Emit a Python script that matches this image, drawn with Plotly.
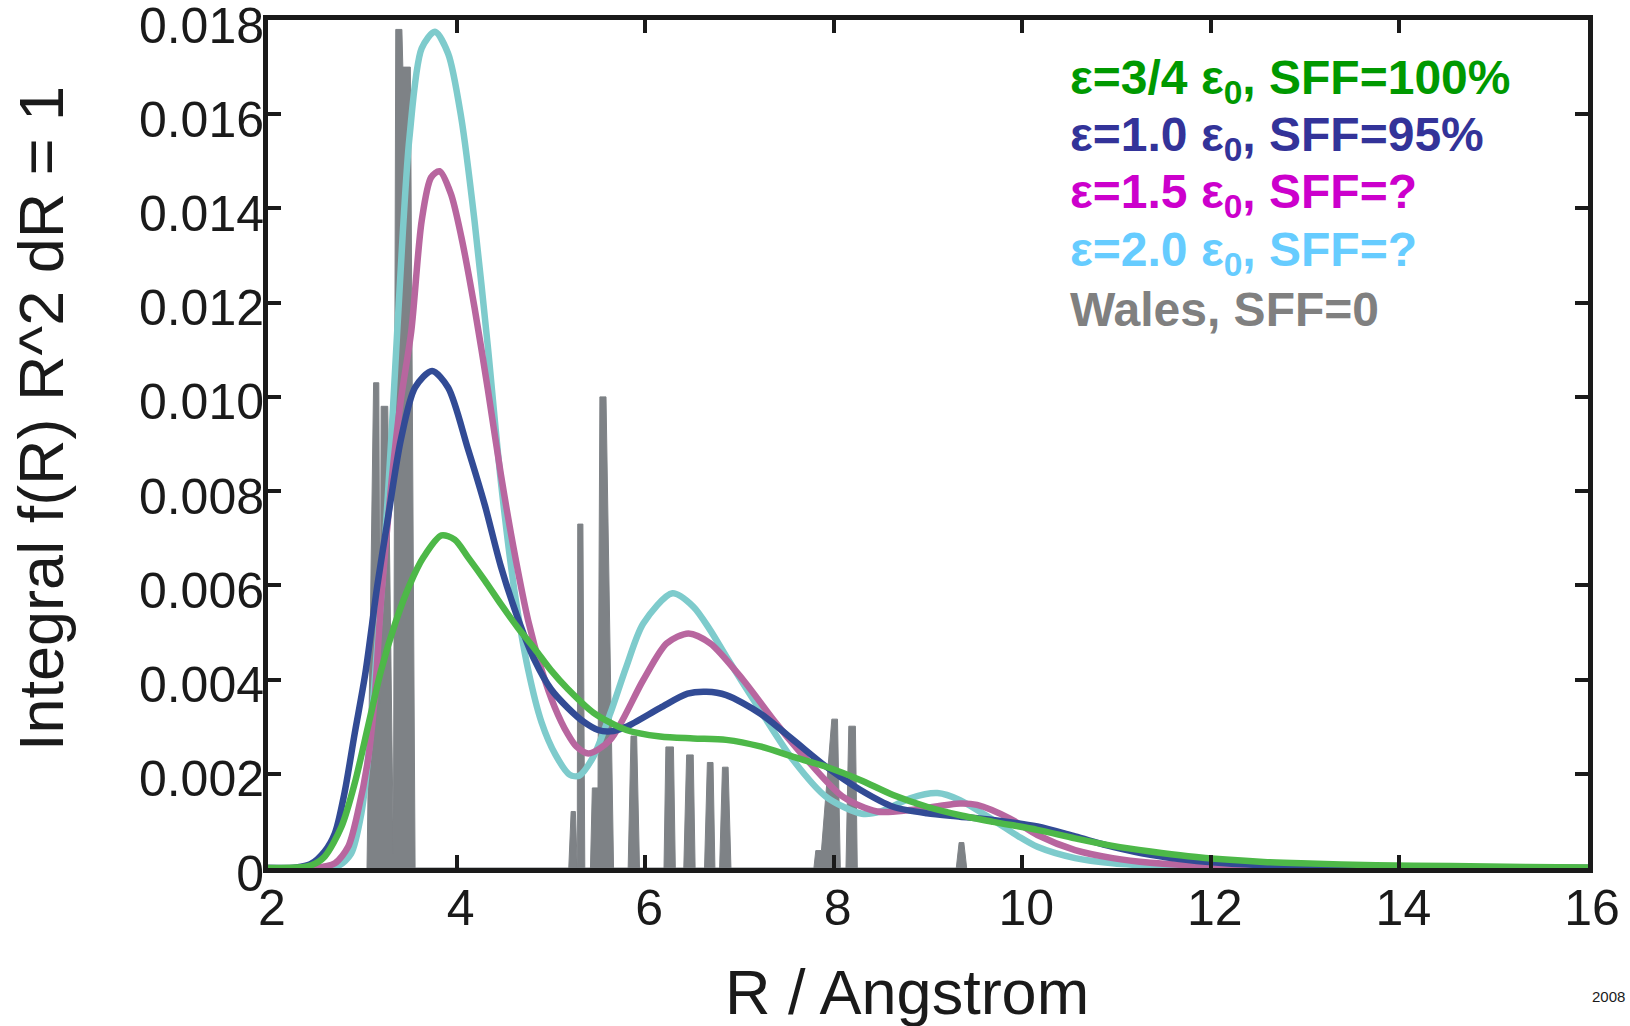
import plotly.graph_objects as go

# ---------------- data ----------------
green_r = [2.0, 2.3, 2.46, 2.60, 2.78, 2.92, 3.06, 3.20, 3.35, 3.50, 3.65, 3.84, 3.98, 4.12, 4.30,
           4.47, 4.65, 4.83, 5.00, 5.18, 5.45, 5.80, 6.16, 6.51, 6.86, 7.22, 7.57, 7.92, 8.28,
           8.63, 8.99, 9.34, 9.69, 10.16, 10.56, 10.96, 11.36, 11.76, 12.16, 12.56, 12.96,
           13.75, 14.55, 15.35, 16.0]
green_v = [0.0, 0.00001, 0.00006, 0.00024, 0.00088, 0.0018, 0.0030, 0.0042, 0.0052, 0.0060,
           0.0066, 0.00706, 0.00697, 0.0066, 0.0061, 0.0056, 0.0051, 0.00465, 0.0042,
           0.0038, 0.0033, 0.00293, 0.00279, 0.00275, 0.00272, 0.00258, 0.00236, 0.00215,
           0.00187, 0.00155, 0.0013, 0.00112, 0.00098, 0.00081, 0.00063, 0.00047, 0.00035,
           0.00025, 0.00018, 0.00013, 0.0001, 0.00006, 0.00004, 0.00002, 0.00001]

blue_r = [2.0, 2.3, 2.45, 2.6, 2.71, 2.81, 2.92, 3.03, 3.16, 3.27, 3.41, 3.56, 3.74, 3.91, 4.12,
          4.30, 4.47, 4.65, 4.83, 5.00, 5.18, 5.35, 5.50, 5.63, 5.80, 6.16, 6.45, 6.65, 6.86,
          7.22, 7.57, 7.92, 8.28, 8.63, 8.99, 9.34, 9.69, 10.16, 10.56, 10.96, 11.36, 11.76,
          12.16, 12.56, 13.15, 14.0, 16.0]
blue_v = [0.0, 0.00001, 0.00008, 0.00035, 0.00074, 0.00158, 0.00286, 0.0041, 0.0060, 0.0074,
          0.0091, 0.0102, 0.01055, 0.0102, 0.0089, 0.0077, 0.0064, 0.0053, 0.0044, 0.0038,
          0.0034, 0.0031, 0.00293, 0.0029, 0.0030, 0.0034, 0.0037, 0.00374, 0.00367,
          0.00328, 0.00272, 0.00215, 0.00166, 0.0013, 0.00116, 0.00109, 0.00102, 0.00088,
          0.00067, 0.00045, 0.00028, 0.00017, 0.0001, 0.00006, 0.00003, 0.00001, 0.0]

pink_r = [2.0, 2.5, 2.71, 2.85, 2.95, 3.06, 3.13, 3.20, 3.31, 3.41, 3.52, 3.63, 3.73, 3.82, 3.94,
          4.05, 4.19, 4.33, 4.47, 4.62, 4.76, 4.90, 5.04, 5.18, 5.27, 5.40, 5.63, 5.98, 6.23,
          6.46, 6.69, 7.04, 7.39, 7.75, 8.10, 8.46, 8.81, 9.34, 9.52, 9.87, 10.16, 10.56,
          10.96, 11.36, 11.76, 12.5, 16.0]
pink_v = [0.0, 0.0, 0.0001, 0.00045, 0.00116, 0.00229, 0.00357, 0.0057, 0.0082, 0.00995,
          0.0114, 0.01374, 0.01466, 0.01479, 0.01431, 0.0134, 0.0119, 0.01018, 0.00835,
          0.00663, 0.00525, 0.00422, 0.00342, 0.00284, 0.00258, 0.00243, 0.00272, 0.00399,
          0.00477, 0.00498, 0.00477, 0.00399, 0.00307, 0.00222, 0.00151, 0.0012, 0.00123,
          0.00137, 0.00134, 0.00105, 0.0007, 0.00038, 0.00021, 0.00011, 0.00006, 0.00002, 0.0]

cyan_r = [2.0, 2.6, 2.75, 2.88, 2.99, 3.08, 3.15, 3.22, 3.31, 3.43, 3.50, 3.63, 3.77, 3.91, 4.05,
          4.19, 4.33, 4.47, 4.62, 4.76, 4.90, 5.05, 5.20, 5.30, 5.45, 5.63, 5.80, 5.98, 6.29,
          6.51, 6.69, 6.86, 7.22, 7.57, 7.92, 8.30, 8.50, 8.81, 9.10, 9.34, 9.69, 9.96, 10.16,
          10.56, 10.96, 11.36, 12.0, 16.0]
cyan_v = [0.0, 0.0, 0.00005, 0.0003, 0.00116, 0.0027, 0.0045, 0.0063, 0.0092, 0.0135, 0.0155,
          0.0174, 0.01775, 0.01729, 0.01592, 0.01374, 0.0111, 0.0082, 0.0058, 0.0042,
          0.0031, 0.0024, 0.00198, 0.00196, 0.00236, 0.00328, 0.00427, 0.00519, 0.00583,
          0.00555, 0.00505, 0.00449, 0.00335, 0.00229, 0.00151, 0.00115, 0.0012, 0.00148,
          0.00159, 0.00144, 0.00102, 0.00067, 0.00045, 0.00021, 0.0001, 0.00005, 0.00002, 0.0]

wales_r = [3.05, 3.12, 3.175, 3.19, 3.20, 3.27, 3.33, 3.355, 3.42, 3.43, 3.51, 3.56,
           5.19, 5.215, 5.26, 5.28, 5.285, 5.34, 5.36,
           5.42, 5.44, 5.50, 5.52, 5.585, 5.665,
           5.82, 5.85, 5.91, 5.94,
           6.20, 6.22, 6.30, 6.32,
           6.41, 6.44, 6.51, 6.53,
           6.63, 6.66, 6.72, 6.74,
           6.79, 6.82, 6.88, 6.91,
           7.79, 7.81, 7.87, 7.98, 8.04, 8.07,
           8.13, 8.16, 8.23, 8.25,
           9.30, 9.33, 9.38, 9.41]
wales_v = [0.0, 0.0103, 0.0103, 0.0035, 0.0098, 0.0098, 0.0003, 0.0178, 0.0178, 0.0170, 0.0170, 0.0,
           0.0, 0.0012, 0.0012, 0.0, 0.0073, 0.0073, 0.0,
           0.0, 0.0017, 0.0017, 0.0100, 0.0100, 0.0,
           0.0, 0.0028, 0.0028, 0.0,
           0.0, 0.00257, 0.00257, 0.0,
           0.0, 0.0024, 0.0024, 0.0,
           0.0, 0.00224, 0.00224, 0.0,
           0.0, 0.00214, 0.00214, 0.0,
           0.0, 0.00037, 0.00037, 0.00316, 0.00316, 0.0,
           0.0, 0.00301, 0.00301, 0.0,
           0.0, 0.00054, 0.00054, 0.0]

x_tick_vals = [2, 4, 6, 8, 10, 12, 14, 16]
x_tick_text = ["2", "4", "6", "8", "10", "12", "14", "16"]
y_tick_vals = [0, 0.002, 0.004, 0.006, 0.008, 0.010, 0.012, 0.014, 0.016, 0.018]
y_tick_text = ["0", "0.002", "0.004", "0.006", "0.008", "0.010", "0.012", "0.014", "0.016", "0.018"]

legend_labels = ["ε=3/4 ε<sub>0</sub>, SFF=100%",
                 "ε=1.0 ε<sub>0</sub>, SFF=95%",
                 "ε=1.5 ε<sub>0</sub>, SFF=?",
                 "ε=2.0 ε<sub>0</sub>, SFF=?",
                 "Wales, SFF=0"]
legend_colors = ["#009900", "#333399", "#cc00cc", "#66ccff", "#808080"]

x_title = "R / Angstrom"
y_title = "Integral f(R) R^2 dR = 1"
corner_note = "2008"

# ---------------- layout geometry (pixels) ----------------
W, H = 1630, 1026
L, R, T, B = 268, 1588, 20, 868
FONT = "Liberation Sans, Arial, Helvetica, sans-serif"
INK = "#1a1a1a"


def px_x(px):
    return (px - L) / (R - L)


def px_y(py):
    return (B - py) / (B - T)


fig = go.Figure()

fig.add_trace(go.Scatter(x=wales_r, y=wales_v, mode="lines", fill="tozeroy",
                         line=dict(color="#7e8286", width=1), fillcolor="#7e8286",
                         showlegend=False, hoverinfo="skip"))

curve_specs = [(cyan_r, cyan_v, "#7ecbcc"),
               (pink_r, pink_v, "#b8669f"),
               (blue_r, blue_v, "#324b95"),
               (green_r, green_v, "#4db848")]
for xs, ys, col in curve_specs:
    fig.add_trace(go.Scatter(x=xs, y=ys, mode="lines",
                             line=dict(color=col, width=6.5, shape="spline", smoothing=0.8),
                             showlegend=False, hoverinfo="skip"))

axis_common = dict(showline=True, linewidth=5, linecolor=INK, mirror="ticks",
                   ticks="inside", ticklen=13, tickwidth=4, tickcolor=INK,
                   showgrid=False, zeroline=False, automargin=False,
                   ticklabeloverflow="allow",
                   tickfont=dict(family=FONT, size=50, color=INK))

fig.update_xaxes(range=[2, 16], tickvals=x_tick_vals, ticktext=x_tick_text,
                 ticklabelshift=4, ticklabelstandoff=-8, **axis_common)
fig.update_yaxes(range=[0, 0.0180001], tickvals=y_tick_vals, ticktext=y_tick_text,
                 ticklabelshift=5, ticklabelstandoff=-11, **axis_common)

annotations = []
baselines = [98, 155, 212, 270, 326]
for txt, col, bl in zip(legend_labels, legend_colors, baselines):
    annotations.append(dict(text="<b>" + txt + "</b>", x=px_x(1068), y=px_y(bl - 17),
                            xref="paper", yref="paper", xanchor="left", yanchor="middle",
                            showarrow=False, font=dict(family=FONT, size=48, color=col)))

annotations.append(dict(text=x_title, x=px_x(907), y=px_y(992), xref="paper", yref="paper",
                        xanchor="center", yanchor="middle", showarrow=False,
                        font=dict(family=FONT, size=63, color=INK)))
annotations.append(dict(text=y_title, x=px_x(41), y=px_y(419), xref="paper", yref="paper",
                        xanchor="center", yanchor="middle", textangle=-90, showarrow=False,
                        font=dict(family=FONT, size=63, color=INK)))
annotations.append(dict(text=corner_note, x=px_x(1608), y=px_y(997), xref="paper", yref="paper",
                        xanchor="center", yanchor="middle", showarrow=False,
                        font=dict(family=FONT, size=15, color=INK)))

fig.update_layout(width=W, height=H, margin=dict(l=L, r=W - R, t=T, b=H - B, pad=0),
                  paper_bgcolor="white", plot_bgcolor="white",
                  annotations=annotations, showlegend=False)

fig.write_html("out.html")
